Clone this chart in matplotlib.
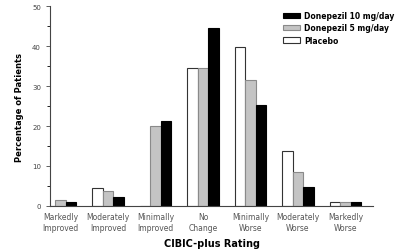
import numpy as np
import matplotlib.pyplot as plt

# CIBIC-plus rating categories
categories = ['Markedly\nImproved', 'Moderately\nImproved', 'Minimally\nImproved', 'No\nChange',
              'Minimally\nWorse', 'Moderately\nWorse', 'Markedly\nWorse']
placebo = [0, 4.5, 0, 34.5, 39.7, 13.7, 1.0]
dose_5mg = [1.5, 3.8, 20.0, 34.5, 31.5, 8.4, 1.0]
dose_10mg = [1.0, 2.2, 21.3, 44.5, 25.2, 4.8, 1.0]
series_names = ['Donepezil 10 mg/day', 'Donepezil 5 mg/day', 'Placebo']

fig = plt.figure(figsize=(4, 2.53), dpi=100)
ax = fig.add_axes([0.125, 0.182, 0.8075, 0.79])

x = np.arange(len(categories))
w = 0.22
b_pl = ax.bar(x - w, placebo, w, color='white', edgecolor='#333333', linewidth=0.8)
b_5 = ax.bar(x, dose_5mg, w, color='#c4c4c4', edgecolor='#8a8a8a', linewidth=0.8)
b_10 = ax.bar(x + w, dose_10mg, w, color='black', edgecolor='black', linewidth=0.8)

ax.set_xlim(-0.22, 6.58)
ax.set_ylim(0, 50)
ax.set_yticks(range(0, 51, 10))
ax.set_yticks(range(5, 50, 10), minor=True)
ax.tick_params(axis='y', labelsize=5, colors='#444444', length=3, width=0.6)
ax.tick_params(axis='y', which='minor', length=2, width=0.6)
ax.set_xticks(x)
ax.set_xticklabels(categories, fontsize=5.5, color='#555555', linespacing=1.4)
ax.tick_params(axis='x', length=0, pad=4)

for s in ['top', 'right']:
    ax.spines[s].set_visible(False)
for s in ['left', 'bottom']:
    ax.spines[s].set_linewidth(0.8)
    ax.spines[s].set_color('#444444')

ax.set_ylabel('Percentage of Patients', fontsize=6, fontweight='bold', labelpad=6)
ax.set_xlabel('CIBIC-plus Rating', fontsize=7, fontweight='bold', labelpad=4)

ax.legend([b_10, b_5, b_pl], series_names, loc='upper left', bbox_to_anchor=(0.70, 1.01),
          frameon=False, handlelength=2.2, handleheight=0.7, handletextpad=0.6,
          labelspacing=0.45, prop={'weight': 'bold', 'size': 5.5})

plt.savefig('out.png', dpi=100)
